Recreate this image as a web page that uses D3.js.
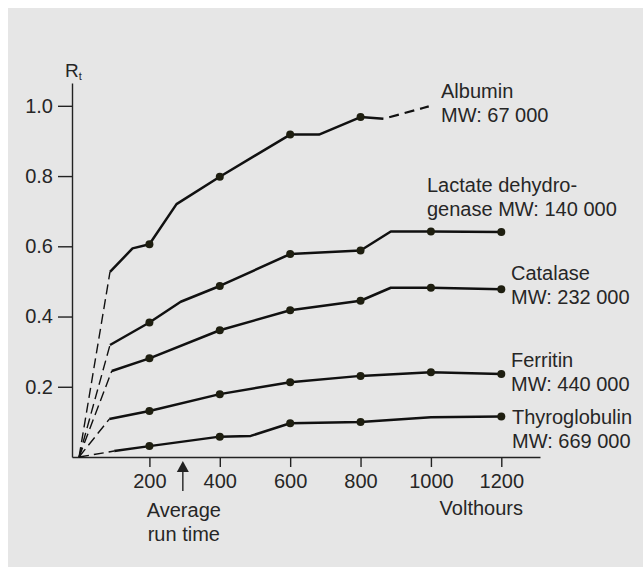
<!DOCTYPE html>
<html>
<head>
<meta charset="utf-8">
<script src="https://cdn.jsdelivr.net/npm/d3@7"></script>
<style>
  body { margin: 0; background: #fff; }
  text { font-family: "Liberation Sans", Arial, sans-serif; fill: #262626; }
</style>
</head>
<body>
<div id="chart"></div>
<script>
const w = 643,
      h = 567;

// volthours / Rt
const albuminV = [0, 88, 152, 200, 277, 400, 600, 682, 800, 865];
const albuminR = [0, 0.527, 0.594, 0.606, 0.72, 0.798, 0.918, 0.918, 0.968, 0.963];
const albuminDots = [200, 400, 600, 800];
const albuminTailV = [865, 1000];
const albuminTailR = [0.963, 1.0];

const ldhV = [0, 88, 200, 289, 400, 600, 800, 886, 1000, 1200];
const ldhR = [0, 0.319, 0.383, 0.442, 0.487, 0.578, 0.588, 0.642, 0.642, 0.641];
const ldhDots = [200, 400, 600, 800, 1000, 1200];

const catalaseV = [0, 93, 200, 400, 600, 800, 886, 1000, 1200];
const catalaseR = [0, 0.245, 0.281, 0.361, 0.418, 0.445, 0.482, 0.482, 0.478];
const catalaseDots = [200, 400, 600, 800, 1000, 1200];

const ferritinV = [0, 86, 200, 400, 600, 800, 1000, 1200];
const ferritinR = [0, 0.108, 0.131, 0.179, 0.213, 0.231, 0.241, 0.236];
const ferritinDots = [200, 400, 600, 800, 1000, 1200];

const thyroV = [0, 100, 200, 400, 488, 600, 800, 1000, 1200];
const thyroR = [0, 0.017, 0.031, 0.058, 0.060, 0.096, 0.1, 0.113, 0.115];
const thyroDots = [200, 400, 600, 800, 1200];

const xTicks = [200, 400, 600, 800, 1000, 1200];
const yTicks = [0.2, 0.4, 0.6, 0.8, 1.0];
const avgRunTime = 295;

const series = [
  {v: albuminV, r: albuminR, dots: albuminDots, tailV: albuminTailV, tailR: albuminTailR,
   label: ["Albumin", "MW: 67 000"], lx: 441, ly: 98},
  {v: ldhV, r: ldhR, dots: ldhDots,
   label: ["Lactate dehydro-", "genase MW: 140 000"], lx: 427, ly: 192},
  {v: catalaseV, r: catalaseR, dots: catalaseDots,
   label: ["Catalase", "MW: 232 000"], lx: 511, ly: 280},
  {v: ferritinV, r: ferritinR, dots: ferritinDots,
   label: ["Ferritin", "MW: 440 000"], lx: 511, ly: 367},
  {v: thyroV, r: thyroR, dots: thyroDots,
   label: ["Thyroglobulin", "MW: 669 000"], lx: 512, ly: 424}
];

const svg = d3.select("#chart")
  .append("svg")
  .attr("width", w)
  .attr("height", h);

svg.append("rect")
  .attr("x", 8).attr("y", 8)
  .attr("width", w - 8).attr("height", h - 8)
  .style("fill", "#e6e6e6");

const x = d3.scaleLinear().domain([-20, 1310]).range([72, 540]);
const y = d3.scaleLinear().domain([0, 1.065]).range([457, 83]);

// axes
const xAxis = d3.axisBottom(x).tickValues(xTicks).tickFormat(d3.format("d"))
  .tickSizeInner(10).tickSizeOuter(0).tickPadding(7);
const yAxis = d3.axisLeft(y).tickValues(yTicks).tickFormat(d3.format(".1f"))
  .tickSizeInner(14).tickSizeOuter(0).tickPadding(5);

const gx = svg.append("g").attr("transform", "translate(0," + y(0) + ")").call(xAxis);
const gy = svg.append("g").attr("transform", "translate(" + x(-20) + ",0)").call(yAxis);

[gx, gy].forEach(g => {
  g.selectAll("path, line").style("stroke", "#222").style("stroke-width", 1.4);
  g.selectAll("text").style("font-size", "20px").style("fill", "#262626")
    .style("font-family", "'Liberation Sans', Arial, sans-serif");
});

// Rt label
const rt = svg.append("text").attr("x", 65).attr("y", 77).style("font-size", "19px");
rt.append("tspan").text("R");
rt.append("tspan").attr("dy", 3).style("font-size", "11px").text("t");

const line = d3.line().x(d => x(d[0])).y(d => y(d[1]));

series.forEach(s => {
  const pts = s.v.map((v, i) => [v, s.r[i]]);

  // dashed extrapolation to origin
  svg.append("path")
    .attr("d", line(pts.slice(0, 2)))
    .style("fill", "none").style("stroke", "#111")
    .style("stroke-width", 1.4).style("stroke-dasharray", "10,5");

  svg.append("path")
    .attr("d", line(pts.slice(1)))
    .style("fill", "none").style("stroke", "#111")
    .style("stroke-width", 2.5).style("stroke-linejoin", "round");

  if (s.tailV) {
    const tail = s.tailV.map((v, i) => [v, s.tailR[i]]);
    svg.append("path")
      .attr("d", line(tail))
      .style("fill", "none").style("stroke", "#111")
      .style("stroke-width", 2.3).style("stroke-dasharray", "0,6,10,6,10,6,3");
  }

  svg.selectAll(null)
    .data(s.dots)
    .enter()
    .append("circle")
    .attr("cx", d => x(d))
    .attr("cy", d => y(s.r[s.v.indexOf(d)]))
    .attr("r", 4)
    .style("fill", "#1e1e10");

  const t = svg.append("text").attr("x", s.lx).attr("y", s.ly).style("font-size", "20px");
  s.label.forEach((l, i) => {
    t.append("tspan").attr("x", s.lx).attr("dy", i ? 24 : 0).text(l);
  });
});

// average run time arrow
const ax = x(avgRunTime);
svg.append("line")
  .attr("x1", ax).attr("x2", ax)
  .attr("y1", 470).attr("y2", 491)
  .style("stroke", "#222").style("stroke-width", 1.4);
svg.append("path")
  .attr("d", "M" + ax + ",461 L" + (ax - 6) + ",472 L" + (ax + 6) + ",472 Z")
  .style("fill", "#222");

svg.append("text").attr("x", ax + 1).attr("y", 517).attr("text-anchor", "middle")
  .style("font-size", "20px").text("Average");
svg.append("text").attr("x", ax + 1).attr("y", 541).attr("text-anchor", "middle")
  .style("font-size", "20px").text("run time");

svg.append("text").attr("x", 523).attr("y", 515).attr("text-anchor", "end")
  .style("font-size", "20px").text("Volthours");
</script>
</body>
</html>
